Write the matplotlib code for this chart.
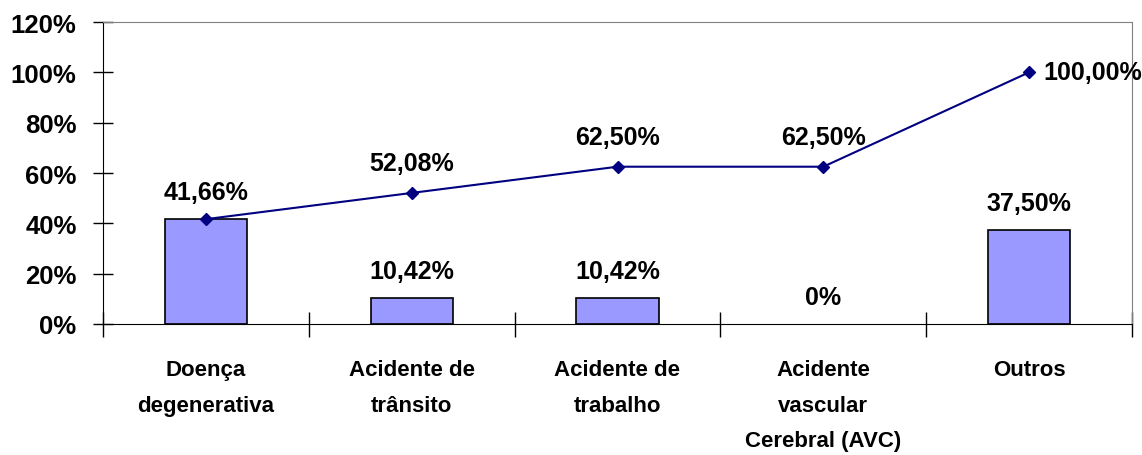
import matplotlib
matplotlib.use("Agg")
import matplotlib.pyplot as plt
from matplotlib.ticker import FuncFormatter

categories = ["Doença\ndegenerativa", "Acidente de\ntrânsito", "Acidente de\ntrabalho",
              "Acidente\nvascular\nCerebral (AVC)", "Outros"]
bar_values = [41.66, 10.42, 10.42, 0, 37.50]
cum_values = [41.66, 52.08, 62.50, 62.50, 100.00]
bar_labels = ["41,66%", "10,42%", "10,42%", "0%", "37,50%"]
cum_labels = ["", "52,08%", "62,50%", "62,50%", "100,00%"]

plt.rcParams['font.family'] = ['Liberation Sans', 'DejaVu Sans']
plt.rcParams['font.weight'] = 'bold'

fig = plt.figure(figsize=(11.42, 4.56), dpi=100)
ax = fig.add_axes([103/1142, 1 - 325/456, (1132-103)/1142, (325-23)/456])

x = list(range(len(categories)))
edge_w = [1.2 if v > 0 else 0 for v in bar_values]
ax.bar(x, bar_values, width=0.4, color="#9999FF", edgecolor="black", linewidth=edge_w, zorder=2)
ax.plot(x, cum_values, color="#000080", marker="D", markersize=6, linewidth=1.5, zorder=3)

ax.set_xlim(-0.5, len(categories) - 0.5)
ax.set_ylim(0, 120)
ax.set_yticks(range(0, 121, 20))
ax.yaxis.set_major_formatter(FuncFormatter(lambda v, p: f"{int(v)}%"))
ax.tick_params(axis="y", direction="inout", length=14, width=1, labelsize=18.5, pad=12)

ax.set_xticks([i + 0.5 for i in range(-1, len(categories))])
ax.set_xticklabels([])
ax.tick_params(axis="x", direction="inout", length=18, width=1)
for i, c in enumerate(categories):
    ax.text(i, -14, c, ha="center", va="top", fontsize=16, fontweight="bold",
            linespacing=1.9)

for lbl in ax.get_yticklabels():
    lbl.set_fontweight("bold")

# labels on bars
for i, (v, l) in enumerate(zip(bar_values, bar_labels)):
    ax.text(i, v + 6, l, ha="center", va="bottom", fontsize=18, fontweight="bold")
# labels on cumulative line
for i, (v, l) in enumerate(zip(cum_values, cum_labels)):
    if not l:
        continue
    if i == len(cum_values) - 1:
        ax.text(i + 0.07, v, l, ha="left", va="center", fontsize=18, fontweight="bold")
    else:
        ax.text(i, v + 7, l, ha="center", va="bottom", fontsize=18, fontweight="bold")

ax.spines["left"].set_color("black")
ax.spines["bottom"].set_color("black")
ax.spines["top"].set_color("#808080")
ax.spines["right"].set_color("#808080")

fig.savefig("out.png", dpi=100)
